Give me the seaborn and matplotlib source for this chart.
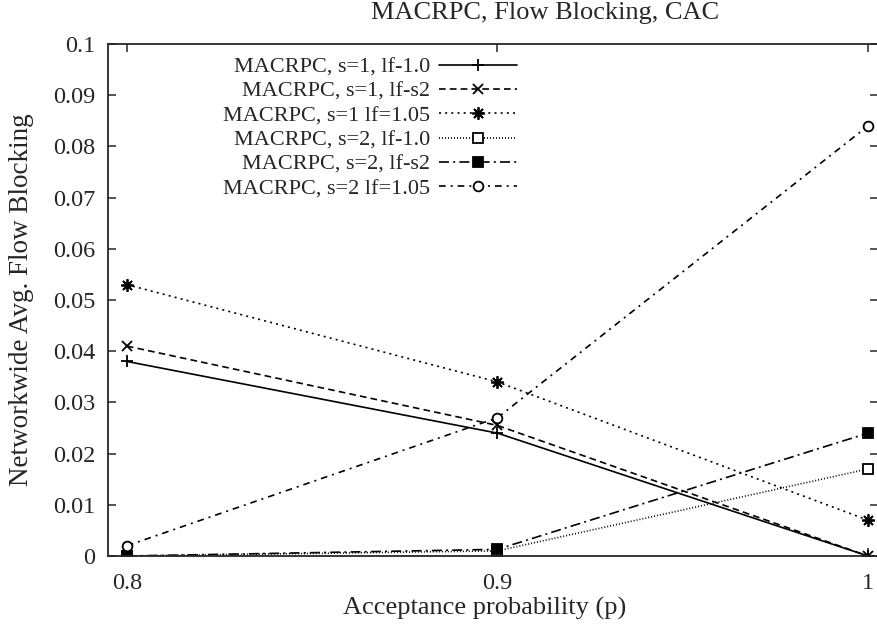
import numpy as np
import pandas as pd
import seaborn as sns
import matplotlib.pyplot as plt

# acceptance probability on the x axis
p_vals = [0.8, 0.9, 1.0]

s1_lf10 = [0.038, 0.024, 0.0]
s1_lfs2 = [0.041, 0.0255, 0.0]
s1_lf105 = [0.053, 0.034, 0.007]
s2_lf10 = [0.0, 0.001, 0.017]
s2_lfs2 = [0.0, 0.0013, 0.024]
s2_lf105 = [0.002, 0.027, 0.084]

labels = ['MACRPC, s=1, lf-1.0', 'MACRPC, s=1, lf-s2', 'MACRPC, s=1 lf=1.05',
          'MACRPC, s=2, lf-1.0', 'MACRPC, s=2, lf-s2', 'MACRPC, s=2 lf=1.05']

sns.set_style('ticks')
plt.rcParams['font.family'] = ['Liberation Serif', 'DejaVu Serif']
plt.rcParams['font.size'] = 16

fig = plt.figure(figsize=(8.78, 6.3), dpi=100)
ax = fig.add_axes([108/878, 1-556/630, 1-108/878, (556-44)/630])

# gnuplot-ish line styles
styles = [
    dict(linestyle='-', marker='+', ms=8, mfc='k'),
    dict(linestyle=(0, (4, 2.5)), marker='x', ms=7, mfc='k'),
    dict(linestyle=(0, (1.2, 2.5)), marker=(8, 2, 0), ms=9, mfc='k'),
    dict(linestyle=(0, (0.6, 1.2)), marker='s', ms=7, mfc='white'),
    dict(linestyle=(0, (6, 2.5, 1.2, 2.5)), marker='s', ms=7, mfc='k'),
    dict(linestyle=(0, (4, 3, 1.2, 3)), marker='o', ms=7, mfc='white'),
]
series = [s1_lf10, s1_lfs2, s1_lf105, s2_lf10, s2_lfs2, s2_lf105]

for vals, lab, st in zip(series, labels, styles):
    df = pd.DataFrame({'p': p_vals, 'blocking': vals})
    sns.lineplot(data=df, x='p', y='blocking', ax=ax, color='k', lw=1.2,
                 label=lab, markeredgecolor='k', markeredgewidth=1.3, **st)

ax.set_xlim(0.7949, 1.0027)
ax.set_ylim(0, 0.1)
ax.set_xticks([0.8, 0.9, 1.0])
ax.set_xticklabels(['0.8', '0.9', '1'])
ax.set_yticks(np.arange(0, 0.101, 0.01))
ax.set_yticklabels(['0'] + ['%.2f' % v for v in np.arange(0.01, 0.0951, 0.01)] + ['0.1'])
ax.tick_params(direction='in', length=6, width=1.1, top=True, right=True, labelsize=17.5)
ax.tick_params(axis='x', pad=12)
ax.tick_params(axis='y', pad=9)
for sp in ax.spines.values():
    sp.set_linewidth(1.3)
ax.spines['right'].set_visible(False)

ax.set_xlabel('Acceptance probability (p)', fontsize=19, va='center')
ax.set_ylabel('Networkwide Avg. Flow Blocking', fontsize=19.5, va='center')
ax.xaxis.set_label_coords((485-108)/770, (556-608)/512)
ax.yaxis.set_label_coords((22-108)/770, 0.5)
fig.text(545/878, 1-13/630, 'MACRPC, Flow Blocking, CAC', ha='center', va='center', fontsize=19)

leg = ax.legend(loc='upper right', bbox_to_anchor=(517/878, 1-57/630), bbox_transform=fig.transFigure,
                frameon=False, markerfirst=False, handlelength=3.5, handletextpad=0.4,
                labelspacing=0.17, borderpad=0, borderaxespad=0, fontsize=16)

fig.savefig('out.png', dpi=100)
